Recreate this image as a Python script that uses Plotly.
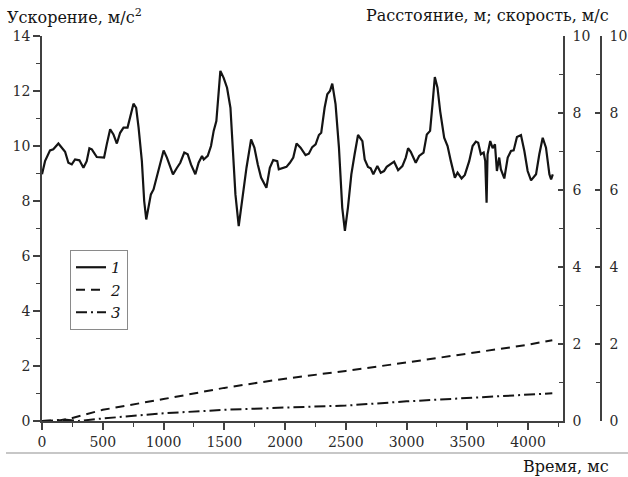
import plotly.graph_objects as go

# --- data ---
t_acc = [0, 25, 66, 93, 135, 162, 190, 217, 245, 272, 308, 341, 368, 390, 410, 451, 478, 511,
         533, 561, 588, 616, 643, 671, 704, 726, 753, 775, 795, 822, 841, 858, 877, 896, 918,
         946, 979, 1001, 1028, 1056, 1078, 1111, 1138, 1171, 1199, 1226, 1262, 1289, 1317, 1331,
         1364, 1391, 1413, 1435, 1446, 1468, 1495, 1523, 1551, 1573, 1592, 1619, 1647, 1683,
         1721, 1748, 1776, 1803, 1847, 1875, 1903, 1936, 1949, 1985, 2012, 2040, 2068, 2095,
         2128, 2169, 2196, 2224, 2252, 2279, 2298, 2326, 2348, 2370, 2389, 2416, 2444, 2471,
         2493, 2518, 2546, 2573, 2601, 2637, 2656, 2683, 2705, 2727, 2760, 2788, 2815, 2837,
         2870, 2898, 2931, 2966, 2994, 3013, 3035, 3076, 3104, 3140, 3167, 3194, 3214, 3233,
         3255, 3277, 3310, 3338, 3365, 3398, 3420, 3453, 3480, 3516, 3544, 3571, 3590, 3612,
         3635, 3648, 3659, 3667, 3689, 3709, 3728, 3744, 3763, 3777, 3805, 3833, 3860, 3882,
         3909, 3942, 3970, 3997, 4025, 4066, 4093, 4121, 4148, 4176, 4190, 4204]
acceleration = [8.97, 9.45, 9.84, 9.88, 10.09, 9.96, 9.79, 9.39, 9.33, 9.51, 9.48, 9.21, 9.45,
                9.92, 9.88, 9.60, 9.58, 9.58, 10.06, 10.61, 10.42, 10.09, 10.48, 10.67, 10.67,
                11.03, 11.54, 11.39, 10.67, 9.45, 8.00, 7.33, 7.76, 8.24, 8.42, 8.91, 9.39,
                9.84, 9.58, 9.21, 8.97, 9.21, 9.39, 9.76, 9.70, 9.33, 8.97, 9.39, 9.64, 9.51,
                9.64, 10.00, 10.55, 10.91, 11.64, 12.73, 12.48, 12.12, 11.39, 9.70, 8.24, 7.09,
                8.00, 9.21, 10.24, 9.94, 9.33, 8.85, 8.48, 9.21, 9.49, 9.45, 9.15, 9.19, 9.24,
                9.39, 9.58, 10.09, 9.94, 9.67, 9.72, 9.96, 10.06, 10.40, 10.48, 11.39, 11.88,
                12.00, 12.27, 11.52, 9.94, 7.76, 6.91, 7.76, 8.97, 9.70, 10.40, 10.18, 9.51,
                9.24, 9.19, 8.97, 9.27, 9.03, 9.09, 9.24, 9.33, 9.43, 9.12, 9.27, 9.58, 9.92,
                9.79, 9.39, 9.64, 9.76, 10.42, 10.55, 11.52, 12.51, 12.12, 11.27, 10.30, 10.00,
                9.45, 8.85, 9.03, 8.82, 8.95, 9.45, 10.00, 10.16, 10.12, 9.70, 9.76, 9.45, 7.94,
                9.70, 10.18, 9.92, 10.06, 9.09, 9.58, 9.15, 8.82, 9.58, 9.82, 9.84, 10.33,
                10.40, 9.82, 9.09, 8.75, 8.97, 9.70, 10.30, 9.94, 8.97, 8.79, 8.97]

t_dist = [0, 150, 250, 340, 500, 1000, 1500, 2000, 2500, 3000, 3500, 4000, 4200]
distance = [0.0, 0.02, 0.08, 0.16, 0.29, 0.57, 0.86, 1.10, 1.30, 1.52, 1.75, 1.98, 2.10]

t_speed = [0, 200, 300, 480, 1000, 1500, 2000, 2500, 3000, 3500, 4000, 4200]
speed = [0.0, 0.03, 0.0, 0.06, 0.20, 0.29, 0.35, 0.40, 0.51, 0.59, 0.68, 0.72]

x_ticks = [0, 500, 1000, 1500, 2000, 2500, 3000, 3500, 4000]
y_left_ticks = [0, 2, 4, 6, 8, 10, 12, 14]
y_right_ticks = [0, 2, 4, 6, 8, 10]

FONT = "DejaVu Serif"
INK = "#141414"
AX = "#404040"

fig = go.Figure()
fig.add_trace(go.Scatter(x=t_acc, y=acceleration, mode="lines", name="1",
                         line=dict(color=INK, width=2.2), yaxis="y"))
fig.add_trace(go.Scatter(x=t_dist, y=distance, mode="lines", name="2",
                         line=dict(color=INK, width=2, dash="9px,6px"), yaxis="y2"))
fig.add_trace(go.Scatter(x=t_speed, y=speed, mode="lines", name="3",
                         line=dict(color=INK, width=2, dash="11px,4px,2px,4px"), yaxis="y3"))

W, H = 628, 477
L, R, T, B = 42, 27, 36, 56
pw = W - L - R
ph = H - T - B
xd = (563 - L) / pw

def px(x):
    return (x - L) / pw

def py(y):
    return (H - B - y) / ph

common = dict(showgrid=False, zeroline=False, showline=True, linecolor=AX, linewidth=1.5,
              tickwidth=1.5, tickcolor=AX, automargin=False,
              tickfont=dict(family=FONT, size=14, color="#2a2a2a"))

fig.update_layout(
    width=W, height=H,
    margin=dict(l=L, r=R, t=T, b=B, pad=0, autoexpand=False),
    paper_bgcolor="white", plot_bgcolor="white",
    font=dict(family=FONT),
    showlegend=True,
    legend=dict(x=px(70), y=py(250), xanchor="left", yanchor="top",
                bordercolor="#8a8a8a", borderwidth=1, bgcolor="rgba(255,255,255,0)",
                font=dict(family=FONT, size=15, color=INK, style="italic"),
                tracegroupgap=0, itemwidth=30),
    xaxis=dict(domain=[0, xd], range=[0, 4288], tickvals=x_ticks,
               ticks="outside", ticklen=7,
               minor=dict(dtick=250, ticks="outside", ticklen=4, tickcolor=AX, tickwidth=1),
               **common),
    yaxis=dict(range=[0, 14], tickvals=y_left_ticks, ticks="outside", ticklen=7,
               minor=dict(dtick=1, ticks="outside", ticklen=4, tickcolor=AX, tickwidth=1),
               **common),
    yaxis2=dict(range=[0, 10], tickvals=y_right_ticks, overlaying="y", side="right",
                anchor="x", ticks="inside", ticklen=5, ticklabelstandoff=5,
                minor=dict(dtick=1, ticks="inside", ticklen=4, tickcolor=AX, tickwidth=1),
                **common),
    yaxis3=dict(range=[0, 10], tickvals=y_right_ticks, overlaying="y", side="right",
                anchor="free", position=1.0, ticks="inside", ticklen=5, ticklabelstandoff=5,
                minor=dict(dtick=1, ticks="inside", ticklen=4, tickcolor=AX, tickwidth=1),
                **common),
)

title_font = dict(family=FONT, size=16, color=INK)
fig.add_annotation(text="Ускорение, м/с<sup>2</sup>", xref="paper", yref="paper",
                   x=px(5), y=py(4), xanchor="left", yanchor="top", showarrow=False,
                   font=title_font)
fig.add_annotation(text="Расстояние, м; скорость, м/с", xref="paper", yref="paper",
                   x=px(611), y=py(4), xanchor="right", yanchor="top", showarrow=False,
                   font=title_font)
fig.add_annotation(text="Время, мс", xref="paper", yref="paper",
                   x=px(611), y=py(455), xanchor="right", yanchor="top", showarrow=False,
                   font=title_font)
fig.add_shape(type="line", xref="paper", yref="paper", x0=px(6), x1=px(628),
              y0=py(453), y1=py(453), line=dict(color="#8f8f8f", width=1))

fig.write_html("out.html")
